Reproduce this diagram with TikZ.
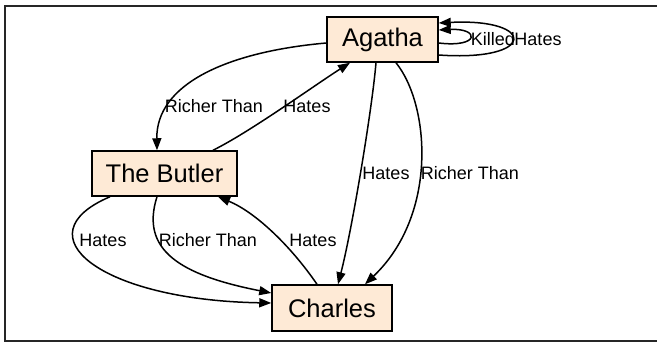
\documentclass[tikz,border=0pt]{standalone}
\usepackage{fontspec}
\setmainfont{Liberation Sans}
\usetikzlibrary{arrows.meta}
\definecolor{boxfill}{HTML}{FEEAD6}
\tikzset{
  person/.style={draw=black, line width=1.5pt, fill=boxfill, inner sep=0pt,
    minimum height=45pt, font=\fontsize{25.5}{28}\selectfont},
  rel/.style={draw=black, line width=1.5pt, -{Triangle[length=12pt,width=9pt]}},
  lbl/.style={font=\fontsize{18}{20}\selectfont, inner sep=0pt}
}
\begin{document}
\begin{tikzpicture}[x=1pt,y=-1pt]
\useasboundingbox (0,0) rectangle (657,342);
% frame
\draw[black!85, line width=1.5pt] (657,6) -- (5,6) -- (5,341) -- (657,341);

% people
\node[person, minimum width=111pt] (ag) at (382.5,39.5) {Agatha};
\node[person, minimum width=145pt] (bu) at (164.5,173.5) {The Butler};
\node[person, minimum width=120pt, minimum height=46pt] (ch) at (332,308) {Charles};

% Agatha -> The Butler
\draw[rel] ([yshift=-3.5pt]ag.west) .. controls (225,52) and (156,85) .. ([xshift=-7.5pt]bu.north);
\node[lbl] (l1) at (214,106) {Richer Than};

% The Butler -> Agatha
\draw[rel] ([xshift=48.5pt]bu.north) .. controls (250,132) and (315,85) .. ([xshift=-32.5pt]ag.south);
\node[lbl] (l2) at (307,106) {Hates};

% Agatha -> Charles
\draw[rel] ([xshift=-6.5pt]ag.south) .. controls (372,110) and (352,230) .. ([xshift=6pt]ch.north);
\node[lbl] (l3) at (386,173) {Hates};
\draw[rel] ([xshift=13.5pt]ag.south) .. controls (430,105) and (438,215) .. ([xshift=33pt]ch.north);
\node[lbl] (l4) at (470,173) {Richer Than};

% Agatha self loops
\draw[rel] ([yshift=-3.5pt]ag.east) .. controls (480,48) and (480,28) .. ([yshift=9.5pt]ag.east);
\draw[rel] ([yshift=-15.5pt]ag.east) .. controls (537,62) and (537,18) .. ([yshift=16.5pt]ag.east);
\node[lbl] (l5) at (493,39) {Killed};
\node[lbl] (l6) at (538,39) {Hates};

% The Butler -> Charles
\draw[rel] ([xshift=-54.5pt]bu.south) .. controls (20,235) and (100,300) .. ([yshift=5pt]ch.west);
\node[lbl] (l7) at (103,240) {Hates};
\draw[rel] ([xshift=-7.5pt]bu.south) .. controls (140,250) and (180,275) .. ([yshift=15pt]ch.west);
\node[lbl] (l8) at (208,240) {Richer Than};

% Charles -> The Butler
\draw[rel] ([xshift=-15pt]ch.north) .. controls (290,245) and (255,212) .. ([xshift=53.5pt]bu.south);
\node[lbl] (l9) at (313,240) {Hates};
\end{tikzpicture}
\end{document}
